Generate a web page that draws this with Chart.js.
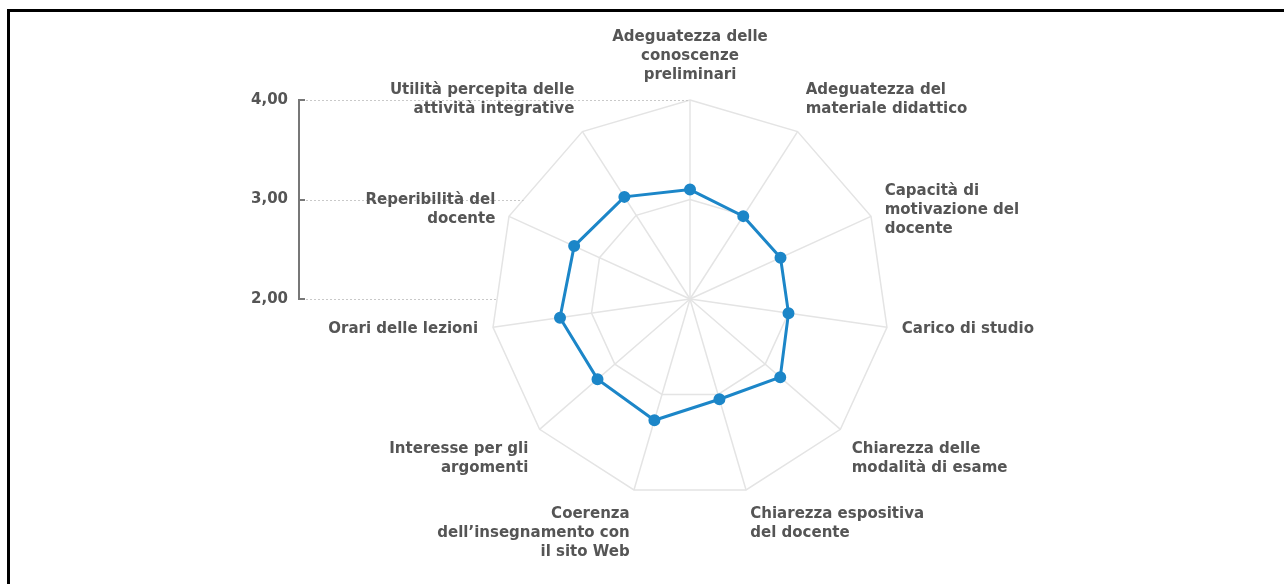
<!DOCTYPE html>
<html>
<head>
<meta charset="utf-8">
<script src="https://cdn.jsdelivr.net/npm/chart.js@4.4.0/dist/chart.umd.min.js"></script>
<style>
  html, body { margin: 0; padding: 0; background: #fff; }
  #wrap { position: relative; width: 1284px; height: 584px; overflow: hidden; }
  #frame { position: absolute; left: 7px; top: 9px; right: -10px; bottom: -10px;
           border-top: 3px solid #000; border-left: 3px solid #000; }
  canvas { position: absolute; left: 0; top: 0; }
</style>
</head>
<body>
<div id="wrap">
  <div id="frame"></div>
  <canvas id="radar" width="1284" height="584"></canvas>
</div>
<script>
"use strict"

// categories (one per spoke, clockwise from the top)
const labels = [
    ['Adeguatezza delle', 'conoscenze', 'preliminari'],
    ['Adeguatezza del', 'materiale didattico'],
    ['Capacità di', 'motivazione del', 'docente'],
    ['Carico di studio'],
    ['Chiarezza delle', 'modalità di esame'],
    ['Chiarezza espositiva', 'del docente'],
    ['Coerenza', 'dell’insegnamento con', 'il sito Web'],
    ['Interesse per gli', 'argomenti'],
    ['Orari delle lezioni'],
    ['Reperibilità del', 'docente'],
    ['Utilità percepita delle', 'attività integrative']
];

// average score per category
const scores = [3.10, 2.99, 3.00, 3.00, 3.20, 3.05, 3.27, 3.23, 3.32, 3.28, 3.22];

// values shown on the side axis
const axisTicks = [2, 3, 4];

const LINE_COLOR = '#1c86c8';
const TEXT_COLOR = '#555';
const GRID_COLOR = '#e4e4e4';
const FONT = 'bold 15px "DejaVu Sans"';
const LINE_H = 19;
const LABEL_GAP = 15;
const AXIS_X = 299;

// x where a horizontal line at y first meets the outer polygon from the left
const leftEdgeAt = (pts, y, fallback) => {
    let best = Infinity;
    for (let i = 0; i < pts.length; i++) {
        const a = pts[i], b = pts[(i + 1) % pts.length];
        const lo = Math.min(a.y, b.y), hi = Math.max(a.y, b.y);
        if (y < lo - 0.5 || y > hi + 0.5) continue;
        const x = hi - lo < 0.001 ? Math.min(a.x, b.x) : a.x + (b.x - a.x) * (y - a.y) / (b.y - a.y);
        best = Math.min(best, x);
    }
    return best === Infinity ? fallback : best;
}

// vertical value axis on the left with dotted guides to the web
const sideAxis = {
    id: 'sideAxis',
    beforeDatasetsDraw(chart) {
        const r = chart.scales.r;
        const ctx = chart.ctx;
        const outer = chart.data.labels.map((_, i) => r.getPointPosition(i, r.drawingArea));
        const ys = axisTicks.map(v => r.getPointPositionForValue(0, v).y);

        ctx.save();
        ctx.strokeStyle = '#c9c9c9';
        ctx.lineWidth = 1;
        ctx.setLineDash([2, 2]);
        ys.forEach(y => {
            const xEnd = leftEdgeAt(outer, y, r.xCenter);
            ctx.beginPath();
            ctx.moveTo(AXIS_X + 7, Math.round(y) + 0.5);
            ctx.lineTo(xEnd, Math.round(y) + 0.5);
            ctx.stroke();
        });
        ctx.setLineDash([]);

        ctx.strokeStyle = '#777';
        ctx.lineWidth = 2;
        ctx.beginPath();
        ctx.moveTo(AXIS_X, Math.min(...ys));
        ctx.lineTo(AXIS_X, Math.max(...ys));
        ys.forEach(y => {
            ctx.moveTo(AXIS_X - 1, Math.round(y));
            ctx.lineTo(AXIS_X + 6, Math.round(y));
        });
        ctx.stroke();

        ctx.font = FONT;
        ctx.fillStyle = TEXT_COLOR;
        ctx.textAlign = 'right';
        ctx.textBaseline = 'middle';
        axisTicks.forEach((v, i) => {
            ctx.fillText(v.toFixed(2).replace('.', ','), AXIS_X - 11, ys[i]);
        });
        ctx.restore();
    }
}

// spoke labels: side aligned, centred vertically near the equator
const spokeLabels = {
    id: 'spokeLabels',
    afterDatasetsDraw(chart) {
        const r = chart.scales.r;
        const ctx = chart.ctx;
        ctx.save();
        ctx.font = FONT;
        ctx.fillStyle = TEXT_COLOR;
        ctx.textBaseline = 'middle';
        chart.data.labels.forEach((lines, i) => {
            const p = r.getPointPosition(i, r.drawingArea + LABEL_GAP);
            const ang = r.getIndexAngle(i);
            const sin = Math.sin(ang), cos = Math.cos(ang);
            ctx.textAlign = Math.abs(sin) < 0.05 ? 'center' : (sin > 0 ? 'left' : 'right');
            const h = lines.length * LINE_H;
            let top = p.y - h / 2;
            if (cos > 0.5) top = p.y - h;
            else if (cos < -0.5) top = p.y;
            lines.forEach((t, k) => ctx.fillText(t, p.x, top + LINE_H * (k + 0.5)));
        });
        ctx.restore();
    }
}

new Chart(document.getElementById('radar'), {
    type: 'radar',
    data: {
        labels: labels,
        datasets: [{
            data: scores,
            borderColor: LINE_COLOR,
            backgroundColor: LINE_COLOR,
            pointBackgroundColor: LINE_COLOR,
            pointBorderColor: LINE_COLOR,
            pointRadius: 4.5,
            borderWidth: 3,
            fill: false,
            tension: 0
        }]
    },
    options: {
        responsive: false,
        animation: false,
        layout: { padding: { top: 100, bottom: 86, left: 491, right: 395 } },
        plugins: {
            legend: { display: false },
            tooltip: { enabled: false }
        },
        scales: {
            r: {
                min: 2,
                max: 4,
                ticks: { stepSize: 1, display: false },
                pointLabels: { display: false },
                grid: { color: GRID_COLOR, lineWidth: 1.5 },
                angleLines: { color: GRID_COLOR, lineWidth: 1.5 }
            }
        }
    },
    plugins: [sideAxis, spokeLabels]
});
</script>
</body>
</html>
